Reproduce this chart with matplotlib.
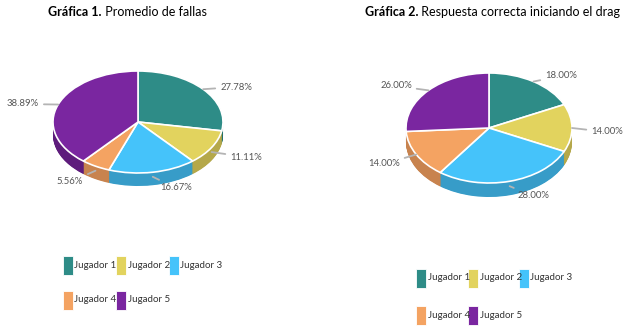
import numpy as np
import matplotlib.pyplot as plt

# Datos de las dos gráficas
jugadores = ['Jugador 1', 'Jugador 2', 'Jugador 3', 'Jugador 4', 'Jugador 5']
fallas = [27.78, 11.11, 16.67, 5.56, 38.89]
respuestas = [18.00, 14.00, 28.00, 14.00, 26.00]

colores = ['#2E8C87', '#E2D35E', '#45C3FA', '#F4A362', '#7A26A0']
colores_lado = ['#237069', '#B5A84A', '#379CC8', '#C8834E', '#5E1C7C']

W, H = 638, 336
fig = plt.figure(figsize=(W / 100, H / 100), dpi=100)

fuente = 'Lato'


def pie_3d(cx, cy, rx, ry, depth, values):
    # pastel "3D": varias copias oscuras desplazadas hacia abajo y la cara superior encima
    m = 1.03
    d = depth / ry
    x0, x1 = cx - m * rx, cx + m * rx
    y0, y1 = cy - m * ry, cy + (m + d) * ry
    pax = fig.add_axes([x0 / W, 1 - y1 / H, (x1 - x0) / W, (y1 - y0) / H])
    for k in np.linspace(d, 0, int(depth * 2)):
        pax.pie(values, colors=colores_lado, startangle=90, counterclock=False,
                center=(0, -k), wedgeprops=dict(linewidth=0))
    pax.pie(values, colors=colores, startangle=90, counterclock=False,
            wedgeprops=dict(edgecolor='white', linewidth=1.2))
    pax.set_aspect('auto')
    pax.set_xlim(-m, m)
    pax.set_ylim(-(m + d), m)
    pax.axis('off')


pie_3d(138, 122, 85, 51, 13, fallas)
pie_3d(489, 128, 83, 55, 14, respuestas)

# eje de la figura completa en pixeles para textos y leyendas
ax = fig.add_axes([0, 0, 1, 1])
ax.set_xlim(0, W)
ax.set_ylim(H, 0)
ax.axis('off')


def etiquetas(cx, cy, rx, ry, depth, values, posiciones):
    fin = 90 - np.cumsum(values) * 3.6
    ini = fin + np.array(values) * 3.6
    mid = np.radians((ini + fin) / 2)
    for v, a, (tx, ty) in zip(values, mid, posiciones):
        px = cx + rx * np.cos(a)
        py = cy - ry * np.sin(a)
        if np.sin(a) < -0.5:
            py += depth * 0.35
        ax.annotate(f'{v:.2f}%', xy=(px, py), xytext=(tx, ty),
                    ha='center', va='center', fontsize=6.8, color='#555555',
                    family=fuente,
                    arrowprops=dict(arrowstyle='-', color='#b4b4b4', lw=1.3,
                                    shrinkA=1.5, shrinkB=0))


etiquetas(138, 122, 85, 51, 13, fallas,
          [(236, 87), (246, 157), (176, 188), (70, 182), (23, 104)])
etiquetas(489, 128, 83, 55, 14, respuestas,
          [(561, 76), (607, 132), (533, 196), (384, 164), (396, 86)])


def titulo(x, y, negrita, resto):
    t = ax.text(x, y, negrita, fontsize=9, fontweight='bold', family=fuente,
                va='center', ha='left', color='black')
    ax.annotate(resto, xy=(1, 0), xycoords=t, va='bottom', ha='left',
                fontsize=9, family=fuente, color='black')


titulo(48, 12, 'Gráfica 1.', ' Promedio de fallas')
titulo(365, 12, 'Gráfica 2.', ' Respuesta correcta iniciando el drag')


def leyenda(xs, ys):
    for i, nombre in enumerate(jugadores):
        x = xs[i % 3]
        y = ys[i // 3]
        ax.add_patch(plt.Rectangle((x, y - 9.5), 10, 19, facecolor=colores[i],
                                   edgecolor='white', lw=0.6))
        ax.text(x + 11.5, y, nombre, fontsize=7, family=fuente, color='#333333',
                va='center', ha='left')


leyenda([63, 116, 169], [265, 300])
leyenda([416, 468, 519], [278, 315])

fig.savefig('out.png', dpi=100)
